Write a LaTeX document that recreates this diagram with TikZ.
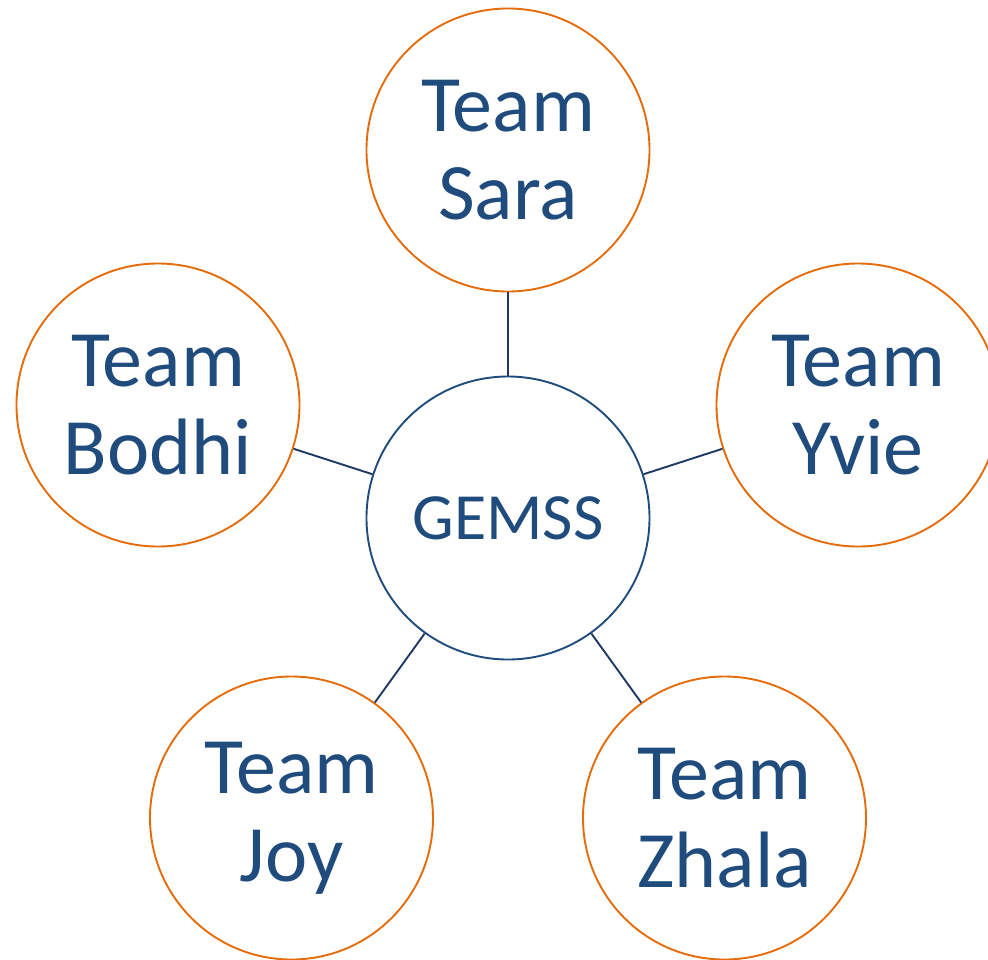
\documentclass[tikz,border=0pt]{standalone}
\usepackage{fontspec}
\setmainfont{Carlito}
\definecolor{tblue}{RGB}{31,75,125}
\definecolor{lblue}{RGB}{31,56,100}
\definecolor{torange}{RGB}{228,108,10}
\begin{document}
\begin{tikzpicture}[x=1pt,y=-1pt,
  team/.style={circle,draw=torange,line width=1.9pt,minimum size=283pt,inner sep=0pt,
    text=tblue,align=center,font=\fontsize{80}{88}\selectfont},
  hub/.style={circle,draw=tblue,line width=1.9pt,minimum size=283pt,inner sep=0pt,
    text=tblue,font=\fontsize{66}{70}\selectfont},
  link/.style={draw=lblue,line width=1.9pt}]
\useasboundingbox (0,0) rectangle (988,959);
\node[hub] (g) at (508,518) {GEMSS};
\node[team] (sara) at (508,150) {Team\\Sara};
\node[team] (bodhi) at (158,405) {Team\\Bodhi};
\node[team] (yvie) at (858,405) {Team\\Yvie};
\node[team] (joy) at (291.5,818) {Team\\Joy};
\node[team] (zhala) at (724.5,818) {Team\\Zhala};
\foreach \t in {sara,bodhi,yvie,joy,zhala} \draw[link] (g) -- (\t);
\end{tikzpicture}
\end{document}
